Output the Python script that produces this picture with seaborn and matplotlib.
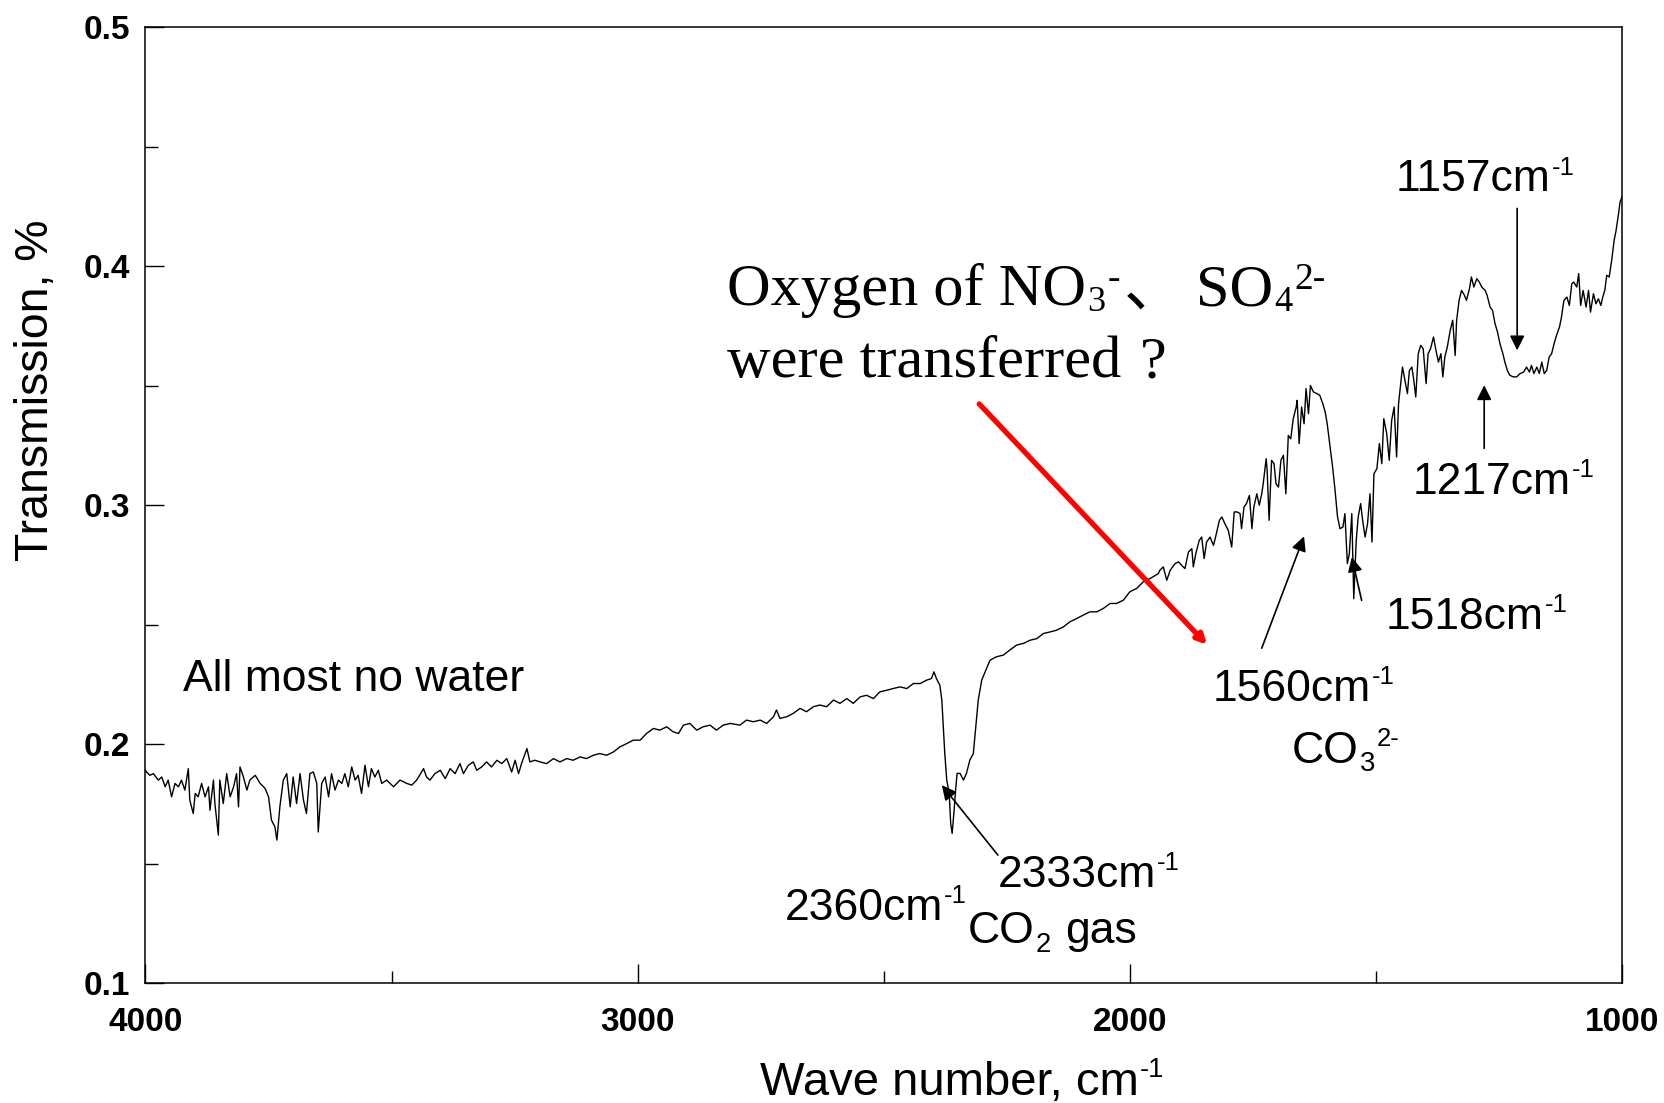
import matplotlib
matplotlib.use("Agg")
import matplotlib.pyplot as plt
import seaborn as sns
import pandas as pd
from matplotlib.ticker import FixedLocator, FormatStrFormatter

# ---------------- data ----------------
# 4000-3009 cm-1 : noisy water-vapour region
wn_water = [4000, 3998, 3991, 3984, 3974, 3967, 3960, 3954, 3947, 3940, 3933, 3927, 3920, 3913,
            3910, 3903, 3899, 3893, 3886, 3879, 3872, 3869, 3862, 3859, 3852, 3849, 3842, 3835,
            3828, 3821, 3815, 3811, 3808, 3801, 3794, 3788, 3777, 3767, 3757, 3750, 3744, 3737,
            3733, 3727, 3720, 3713, 3706, 3700, 3693, 3686, 3679, 3673, 3666, 3659, 3652, 3649,
            3642, 3635, 3628, 3622, 3615, 3608, 3601, 3595, 3588, 3581, 3574, 3568, 3561, 3554,
            3547, 3541, 3534, 3527, 3520, 3510, 3496, 3483, 3469, 3459, 3449, 3435, 3429, 3422,
            3412, 3401, 3391, 3381, 3371, 3361, 3354, 3344, 3334, 3327, 3317, 3307, 3297, 3286,
            3276, 3266, 3256, 3249, 3242, 3236, 3225, 3219, 3209, 3198, 3185, 3171, 3158, 3144,
            3131, 3117, 3104, 3090, 3077, 3063, 3049, 3036, 3022, 3009]
tr_water = [0.1890, 0.1883, 0.1869, 0.1876, 0.1849, 0.1862, 0.1821, 0.1849, 0.1779, 0.1835,
            0.1821, 0.1849, 0.1807, 0.1897, 0.1765, 0.1709, 0.1793, 0.1779, 0.1835, 0.1779,
            0.1821, 0.1723, 0.1849, 0.1751, 0.1619, 0.1849, 0.1751, 0.1876, 0.1779, 0.1821,
            0.1876, 0.1737, 0.1904, 0.1862, 0.1807, 0.1849, 0.1869, 0.1835, 0.1814, 0.1779,
            0.1681, 0.1653, 0.1598, 0.1737, 0.1849, 0.1876, 0.1737, 0.1862, 0.1751, 0.1876,
            0.1765, 0.1709, 0.1876, 0.1883, 0.1835, 0.1632, 0.1835, 0.1862, 0.1779, 0.1876,
            0.1807, 0.1849, 0.1835, 0.1876, 0.1821, 0.1904, 0.1849, 0.1869, 0.1793, 0.1911,
            0.1821, 0.1897, 0.1862, 0.1890, 0.1835, 0.1849, 0.1821, 0.1849, 0.1835, 0.1828,
            0.1849, 0.1897, 0.1862, 0.1849, 0.1876, 0.1890, 0.1855, 0.1897, 0.1876, 0.1918,
            0.1876, 0.1911, 0.1925, 0.1890, 0.1904, 0.1925, 0.1904, 0.1932, 0.1918, 0.1939,
            0.1883, 0.1932, 0.1876, 0.1918, 0.1981, 0.1925, 0.1932, 0.1925, 0.1918, 0.1939,
            0.1925, 0.1939, 0.1932, 0.1946, 0.1939, 0.1953, 0.1960, 0.1953, 0.1967, 0.1988,
            0.2002, 0.2016]

# 2995-1942 cm-1 : baseline and CO2 gas doublet
wn_co2 = [2995, 2982, 2968, 2955, 2941, 2928, 2917, 2907, 2894, 2880, 2867, 2853, 2840, 2826,
          2812, 2792, 2779, 2765, 2751, 2738, 2724, 2718, 2711, 2697, 2684, 2670, 2657, 2643,
          2630, 2616, 2602, 2589, 2575, 2562, 2548, 2535, 2521, 2508, 2494, 2481, 2467, 2453,
          2440, 2426, 2413, 2403, 2398, 2393, 2386, 2382, 2379, 2376, 2372, 2367, 2364, 2361,
          2357, 2354, 2351, 2345, 2338, 2332, 2325, 2318, 2313, 2308, 2301, 2294, 2284, 2271,
          2257, 2244, 2230, 2216, 2203, 2189, 2176, 2162, 2149, 2135, 2122, 2108, 2095, 2081,
          2067, 2054, 2040, 2027, 2013, 2000, 1986, 1973, 1959, 1942]
tr_co2 = [0.2016, 0.2044, 0.2065, 0.2058, 0.2072, 0.2051, 0.2044, 0.2079, 0.2086, 0.2058,
          0.2072, 0.2079, 0.2058, 0.2079, 0.2086, 0.2079, 0.2100, 0.2093, 0.2100, 0.2086,
          0.2114, 0.2142, 0.2107, 0.2114, 0.2128, 0.2149, 0.2135, 0.2156, 0.2163, 0.2156,
          0.2184, 0.2170, 0.2190, 0.2170, 0.2197, 0.2204, 0.2190, 0.2218, 0.2225, 0.2232,
          0.2239, 0.2232, 0.2253, 0.2253, 0.2267, 0.2274, 0.2302, 0.2274, 0.2246, 0.2184,
          0.2072, 0.1960, 0.1849, 0.1793, 0.1668, 0.1626, 0.1724, 0.1807, 0.1877, 0.1877,
          0.1849, 0.1877, 0.1933, 0.1960, 0.2072, 0.2184, 0.2267, 0.2302, 0.2351, 0.2365,
          0.2372, 0.2393, 0.2414, 0.2421, 0.2434, 0.2441, 0.2462, 0.2469, 0.2476, 0.2490,
          0.2511, 0.2525, 0.2539, 0.2553, 0.2553, 0.2567, 0.2588, 0.2588, 0.2602, 0.2637,
          0.2651, 0.2678, 0.2692, 0.2713]

# 1939-1454 cm-1 : carbonate band region
wn_carb = [1939, 1932, 1925, 1918, 1908, 1901, 1895, 1888, 1881, 1874, 1871, 1866, 1859, 1854,
           1849, 1844, 1837, 1830, 1825, 1818, 1813, 1807, 1800, 1793, 1788, 1782, 1776, 1773,
           1768, 1763, 1757, 1752, 1748, 1742, 1737, 1732, 1729, 1723, 1721, 1717, 1712, 1707,
           1703, 1698, 1693, 1688, 1683, 1678, 1673, 1668, 1662, 1660, 1656, 1651, 1646, 1642,
           1637, 1633, 1627, 1620, 1614, 1608, 1603, 1599, 1593, 1588, 1583, 1578, 1573, 1567,
           1563, 1558, 1554, 1549, 1545, 1540, 1536, 1531, 1527, 1522, 1517, 1512, 1508, 1504,
           1498, 1493, 1488, 1484, 1478, 1473, 1468, 1463, 1458, 1454]
tr_carb = [0.2727, 0.2741, 0.2685, 0.2727, 0.2755, 0.2762, 0.2748, 0.2734, 0.2803, 0.2817,
           0.2741, 0.2796, 0.2852, 0.2866, 0.2776, 0.2845, 0.2866, 0.2831, 0.2873, 0.2936,
           0.2950, 0.2922, 0.2894, 0.2824, 0.2971, 0.2971, 0.2964, 0.2901, 0.2992, 0.3006,
           0.3040, 0.2901, 0.2992, 0.3047, 0.2999, 0.3047, 0.3089, 0.3194, 0.3145, 0.2936,
           0.3187, 0.3173, 0.3089, 0.3075, 0.3187, 0.3208, 0.3047, 0.3291, 0.3277, 0.3361,
           0.3410, 0.3438, 0.3257, 0.3410, 0.3340, 0.3487, 0.3382, 0.3500, 0.3473, 0.3466,
           0.3459, 0.3424, 0.3389, 0.3340, 0.3243, 0.3159, 0.3061, 0.2950, 0.2901, 0.2908,
           0.2964, 0.2755, 0.2796, 0.2964, 0.2608, 0.2852, 0.2950, 0.3006, 0.2936, 0.2866,
           0.2922, 0.3047, 0.2845, 0.3131, 0.3152, 0.3257, 0.3173, 0.3361, 0.3298, 0.3187,
           0.3354, 0.3410, 0.3201, 0.3424]

# 1446-1000 cm-1 : sulfate / nitrate region
wn_sulf = [1446, 1441, 1436, 1432, 1427, 1423, 1419, 1414, 1409, 1404, 1398, 1394, 1389, 1383,
           1378, 1373, 1368, 1364, 1360, 1355, 1349, 1344, 1339, 1336, 1331, 1326, 1320, 1316,
           1310, 1306, 1301, 1295, 1290, 1285, 1278, 1274, 1268, 1263, 1258, 1253, 1248, 1242,
           1238, 1233, 1228, 1221, 1214, 1207, 1200, 1194, 1188, 1184, 1179, 1173, 1168, 1163,
           1158, 1153, 1148, 1143, 1138, 1133, 1127, 1123, 1118, 1112, 1107, 1102, 1098, 1092,
           1088, 1084, 1079, 1073, 1068, 1064, 1058, 1053, 1048, 1043, 1039, 1035, 1031, 1026,
           1021, 1016, 1012, 1007, 1004, 1000]
tr_sulf = [0.3577, 0.3522, 0.3466, 0.3563, 0.3577, 0.3522, 0.3452, 0.3633, 0.3668, 0.3654,
           0.3508, 0.3633, 0.3654, 0.3703, 0.3647, 0.3598, 0.3633, 0.3536, 0.3619, 0.3661,
           0.3731, 0.3773, 0.3626, 0.3773, 0.3856, 0.3898, 0.3877, 0.3856, 0.3905, 0.3954,
           0.3912, 0.3947, 0.3933, 0.3912, 0.3898, 0.3877, 0.3828, 0.3814, 0.3759, 0.3724,
           0.3675, 0.3633, 0.3598, 0.3563, 0.3543, 0.3536, 0.3536, 0.3550, 0.3556, 0.3577,
           0.3556, 0.3584, 0.3550, 0.3577, 0.3550, 0.3598, 0.3550, 0.3563, 0.3619, 0.3633,
           0.3675, 0.3710, 0.3745, 0.3786, 0.3856, 0.3870, 0.3835, 0.3926, 0.3933, 0.3912,
           0.3968, 0.3835, 0.3898, 0.3828, 0.3898, 0.3807, 0.3884, 0.3842, 0.3863, 0.3835,
           0.3870, 0.3898, 0.3961, 0.3954, 0.4023, 0.4107, 0.4149, 0.4219, 0.4267, 0.4290]

x_major = [4000, 3000, 2000, 1000]
x_minor = [3500, 2500, 1500]
y_major = [0.1, 0.2, 0.3, 0.4, 0.5]
y_minor = [0.15, 0.25, 0.35, 0.45]

# ---------------- style ----------------
sns.set_theme(style="ticks")
SANS = ["Liberation Sans", "DejaVu Sans"]
SERIF = ["Liberation Serif", "DejaVu Serif"]
CJK = ["Noto Sans CJK SC", "DejaVu Sans"]
plt.rcParams["font.family"] = SANS

fig = plt.figure(figsize=(16.65, 11.03), dpi=100)
ax = fig.add_axes([145.5 / 1665, 1 - 983 / 1103, (1622 - 145.5) / 1665, (983 - 27) / 1103])

df = pd.DataFrame({
    "wavenumber": wn_water + wn_co2 + wn_carb + wn_sulf,
    "transmission": tr_water + tr_co2 + tr_carb + tr_sulf,
})
sns.lineplot(data=df, x="wavenumber", y="transmission", ax=ax, color="black",
             linewidth=1.0, estimator=None)

ax.set_xlim(4000, 1000)
ax.set_ylim(0.1, 0.5)
for sp in ax.spines.values():
    sp.set_linewidth(1.1)
    sp.set_color("black")

ax.xaxis.set_major_locator(FixedLocator(x_major))
ax.xaxis.set_minor_locator(FixedLocator(x_minor))
ax.yaxis.set_major_locator(FixedLocator(y_major))
ax.yaxis.set_minor_locator(FixedLocator(y_minor))
ax.xaxis.set_major_formatter(FormatStrFormatter("%d"))
ax.yaxis.set_major_formatter(FormatStrFormatter("%.1f"))
ax.tick_params(which="major", direction="in", length=14, width=1.0, color="black",
               top=False, right=False)
ax.tick_params(which="minor", direction="in", length=9, width=1.0, color="black",
               top=False, right=False)
ax.tick_params(axis="x", which="major", pad=17)
ax.tick_params(axis="y", which="major", pad=11)
for lab in ax.get_xticklabels() + ax.get_yticklabels():
    lab.set_fontweight("bold")
    lab.set_fontsize(24)
    lab.set_color("black")

ax.set_ylabel("Transmission, %", fontsize=33.5, color="black", va="center", ha="center")
ax.yaxis.set_label_coords(-0.074, 0.620)
ax.set_xlabel("")


# ---------------- helper: text with sub/superscripts ----------------
def rich_text(x, y, pieces, size, family, coords="data",
              sub=(0.62, -0.19), sup=(0.58, 0.38)):
    prev = None
    for piece in pieces:
        txt, kind = piece[0], piece[1]
        gap = piece[2] if len(piece) > 2 else 0.8
        fam = piece[3] if len(piece) > 3 else family
        if kind == "sub":
            fs, dy = size * sub[0], size * sub[1]
        elif kind == "sup":
            fs, dy = size * sup[0], size * sup[1]
        else:
            fs, dy = size, 0.0
        if prev is None:
            xy, xyc, dx = (x, y), coords, 0.0
        else:
            xy, xyc, dx = (1, y), (prev, coords), gap
        prev = ax.annotate(txt, xy=xy, xycoords=xyc, xytext=(dx, dy),
                           textcoords="offset points", fontsize=fs, family=fam,
                           color="black", ha="left", va="baseline",
                           annotation_clip=False)
    return prev


# x axis label
rich_text(0.4162, -0.1172, [("Wave number, cm", "n"), ("-1", "sup")], 34, SANS,
          coords="axes fraction")

# peak labels
LBL = 32
rich_text(3924, 0.2222, [("All most no water", "n")], LBL, SANS)
rich_text(2701, 0.1265, [("2360cm", "n"), ("-1", "sup")], LBL, SANS)
rich_text(2268, 0.1401, [("2333cm", "n"), ("-1", "sup")], LBL, SANS)
rich_text(2329, 0.1167, [("CO", "n"), ("2", "sub"), ("gas", "n", 10)], LBL, SANS)
rich_text(1832, 0.2179, [("1560cm", "n"), ("-1", "sup")], LBL, SANS)
rich_text(1670, 0.1922, [("CO", "n"), ("3", "sub"), ("2-", "sup")], LBL, SANS)
rich_text(1480, 0.2482, [("1518cm", "n"), ("-1", "sup")], LBL, SANS)
rich_text(1425, 0.3045, [("1217cm", "n"), ("-1", "sup")], LBL, SANS)
rich_text(1459, 0.4312, [("1157cm", "n"), ("-1", "sup")], LBL, SANS)

# big serif question
OXY = 43.5
rich_text(2818, 0.3835,
          [("Oxygen of NO", "n"), ("3", "sub"), ("-", "sup", 1.5),
           ("、", "n", 3, CJK), ("SO", "n", 8), ("4", "sub"), ("2-", "sup", 1.5)],
          OXY, SERIF, sub=(0.60, -0.10), sup=(0.62, 0.28))
rich_text(2818, 0.3534, [("were transferred", "n"), ("?", "n", 13)], OXY, SERIF)

# arrows
black_arrows = [((2268, 0.1535), (2382, 0.1828)),
                ((1732, 0.2401), (1646, 0.2869)),
                ((1529, 0.2601), (1549, 0.2782)),
                ((1213, 0.4241), (1213, 0.3647)),
                ((1280, 0.3237), (1280, 0.3501))]
for tail, head in black_arrows:
    ax.annotate("", xy=head, xytext=tail,
                arrowprops=dict(arrowstyle="-|>", color="black", lw=1.2,
                                mutation_scale=22, shrinkA=0, shrinkB=0))
ax.annotate("", xy=(1843, 0.2415), xytext=(2306, 0.3423),
            arrowprops=dict(arrowstyle="-|>", color="#ff0000", lw=3.8,
                            mutation_scale=14, shrinkA=0, shrinkB=0))

fig.savefig("out.png", dpi=100, facecolor="white")
